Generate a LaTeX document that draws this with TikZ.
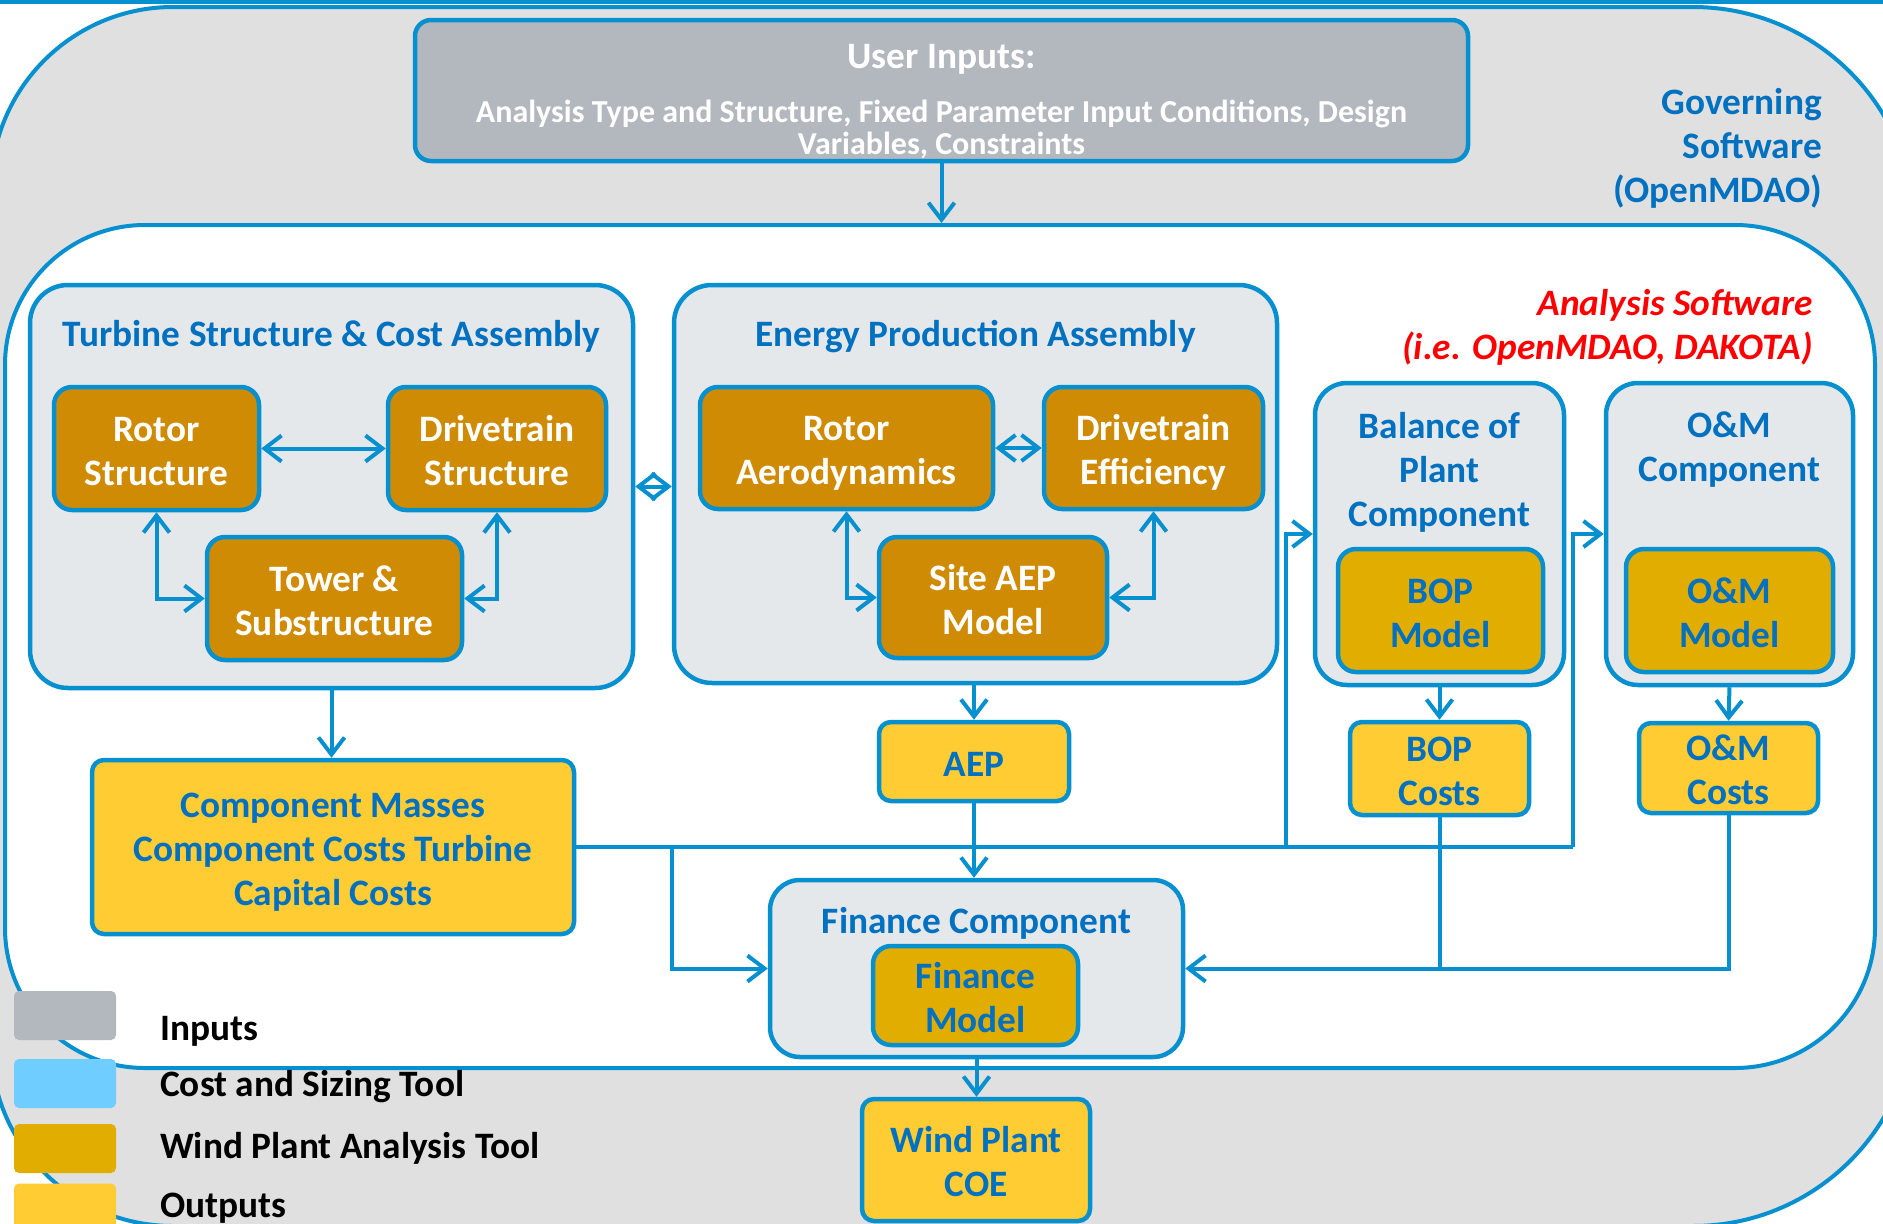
\documentclass[tikz,border=0pt]{standalone}
\usepackage{fontspec}
\setmainfont{Carlito}
\usetikzlibrary{arrows.meta}
\definecolor{lineblue}{HTML}{0690D0}
\definecolor{txtblue}{HTML}{0070C0}
\definecolor{orangebox}{HTML}{CF8B04}
\definecolor{goldbox}{HTML}{E1AD01}
\definecolor{yellowbox}{HTML}{FFCC33}
\definecolor{asmfill}{HTML}{E4E8EA}
\definecolor{outergray}{HTML}{E0E0E0}
\definecolor{inputgray}{HTML}{B3B7BE}
\definecolor{legblue}{HTML}{70CDFF}
\newcommand\FontBig{\fontsize{37.3}{44}\selectfont}
\newcommand\FontSub{\fontsize{32}{32}\selectfont}
\newcommand\TL[1]{\raisebox{-6pt}[\height][\depth]{\begin{tabular}{@{}c@{}}#1\end{tabular}}}
\begin{document}
\begin{tikzpicture}[x=1pt,y=-1pt,
  lbl/.style={font=\bfseries\FontBig, text=txtblue, inner sep=0pt, align=center},
  asm/.style={draw=lineblue, line width=4.5pt, fill=asmfill, rounded corners=38pt, inner sep=0pt},
  tool/.style={draw=lineblue, line width=4.5pt, fill=orangebox, rounded corners=18pt, text=white, font=\bfseries\FontBig, align=center, inner sep=1pt},
  model/.style={tool, fill=goldbox, text=txtblue},
  outbox/.style={tool, fill=yellowbox, text=txtblue, rounded corners=12pt},
  inbox/.style={draw=lineblue, line width=4.5pt, fill=inputgray, rounded corners=16pt, inner sep=0pt},
  conn/.style={draw=lineblue, line width=4pt},
  arr/.style={conn, -{Straight Barb[length=17pt,width=26pt]}},
  darr/.style={conn, {Straight Barb[length=17pt,width=26pt]}-{Straight Barb[length=17pt,width=26pt]}},
  legsq/.style={draw=none, rounded corners=5pt, minimum width=102pt, minimum height=49pt, inner sep=0pt},
  legtxt/.style={font=\bfseries\FontBig, text=black, anchor=base west, inner sep=0pt}
]
\useasboundingbox (0,0) rectangle (1883,1224);
\clip (0,0) rectangle (1883,1224);
\fill[white] (0,0) rectangle (1883,1224);
% outer governing software region
\path[draw=lineblue, fill=outergray, line width=4pt]
  (-9,189) arc[start angle=180, end angle=270, radius=182]
  -- (1693,7) arc[start angle=270, end angle=360, radius=222]
  -- (1915,1004) arc[start angle=0, end angle=90, radius=222]
  -- (173,1226) arc[start angle=90, end angle=180, radius=182]
  -- cycle;
\draw[lineblue, line width=4pt] (0,2) -- (1883,2);
% inner analysis software region
\node[draw=lineblue, line width=4pt, fill=white, rounded corners=140pt, minimum width=1870pt, minimum height=843pt, inner sep=0pt] (inner) at (940,646.5) {};

% user inputs
\node[inbox, minimum width=1053pt, minimum height=141pt] (ui) at (941.5,90.5) {};
\node[lbl, text=white] (uih) at (941.5,59.5) {User Inputs:};
\node[lbl, text=white, font=\bfseries\FontSub] (uit) at (941.5,129) {Analysis Type and Structure, Fixed Parameter Input Conditions, Design\\Variables, Constraints};

\node[lbl, align=right, anchor=east] (gov) at (1822,148.5) {Governing\\Software\\(OpenMDAO)};
\node[lbl, align=right, anchor=east, text=red, font=\bfseries\itshape\FontBig] (asw) at (1813,327.5) {Analysis Software\\(i.e. OpenMDAO, DAKOTA)};

% turbine structure & cost assembly
\node[asm, minimum width=603pt, minimum height=403pt] (tsa) at (331.5,486.5) {};
\node[lbl] (tsat) at (331.5,336) {Turbine Structure \& Cost Assembly};
\node[tool, minimum width=205pt, minimum height=123pt] (rs) at (156.5,448.5) {\TL{Rotor\\Structure}};
\node[tool, minimum width=218pt, minimum height=123pt] (ds) at (497,448.5) {\TL{Drivetrain\\Structure}};
\node[tool, minimum width=255pt, minimum height=123pt] (ts) at (334.5,598.5) {\TL{Tower \&\\Substructure}};

% energy production assembly
\node[asm, minimum width=603pt, minimum height=398pt] (epa) at (975.5,484) {};
\node[lbl] (epat) at (975.5,337) {Energy Production Assembly};
\node[tool, minimum width=293pt, minimum height=122pt] (ra) at (846.5,448) {\TL{Rotor\\Aerodynamics}};
\node[tool, minimum width=219pt, minimum height=122pt] (de) at (1153.5,448) {\TL{Drivetrain\\Efficiency}};
\node[tool, minimum width=228pt, minimum height=121pt] (sa) at (993,597.5) {\TL{Site AEP\\Model}};

% balance of plant
\node[asm, rounded corners=32pt, minimum width=249pt, minimum height=302pt] (bopc) at (1439.5,534) {};
\node[lbl] (bopct) at (1439.5,472.5) {Balance of\\Plant\\Component};
\node[model, minimum width=205pt, minimum height=123pt] (bopm) at (1440.5,610.5) {\TL{BOP\\Model}};

% O&M
\node[asm, rounded corners=32pt, minimum width=247pt, minimum height=302pt] (omc) at (1729.5,534) {};
\node[lbl] (omct) at (1729.5,450) {O\&M\\Component};
\node[model, minimum width=207pt, minimum height=123pt] (omm) at (1729.5,610.5) {\TL{O\&M\\Model}};

% outputs
\node[outbox, minimum width=482pt, minimum height=174pt] (cm) at (333,847) {\TL{Component Masses\\Component Costs Turbine\\Capital Costs}};
\node[outbox, minimum width=190pt, minimum height=79pt] (aep) at (974,761.5) {\TL{AEP}};
\node[outbox, minimum width=179pt, minimum height=93pt] (bopcost) at (1439.5,768.5) {\TL{BOP\\Costs}};
\node[outbox, minimum width=179pt, minimum height=90pt] (omcost) at (1728.5,768) {\TL{O\&M\\Costs}};

% finance
\node[asm, rounded corners=30pt, minimum width=413pt, minimum height=177pt] (fin) at (976.5,968.5) {};
\node[lbl] (fint) at (976.5,923.5) {Finance Component};
\node[model, minimum width=205pt, minimum height=99pt] (finm) at (975.5,995.5) {\TL{Finance\\Model}};

\node[outbox, minimum width=228pt, minimum height=122pt] (coe) at (976,1160) {\TL{Wind Plant\\COE}};

% connectors
\draw[arr] (ui.south) -- (ui.south |- inner.north);
\draw[darr] (rs.east) -- (ds.west);
\draw[darr] (rs.south) |- (ts.west);
\draw[darr] (ds.south) |- (ts.east);
\draw[darr] (ra.east) -- (de.west);
\draw[darr] (ra.south) |- (sa.west);
\draw[darr] (de.south) |- (sa.east);
\draw[darr] (tsa.east) -- (tsa.east -| epa.west);
\draw[arr] (tsa.south) -- (tsa.south |- cm.north);
\draw[arr] (aep.north |- epa.south) -- (aep.north);
\draw[arr] (bopc.south) -- (bopcost.north);
\draw[arr] (omc.south) -- (omcost.north);

\coordinate (busL) at (672,847);
\coordinate (busB) at (1286,847);
\coordinate (busO) at (1573,847);
\draw[conn] (cm.east) -- (busO);
\draw[arr] (busL) |- (fin.west);
\draw[arr] (busB) |- (bopc.west);
\draw[arr] (busO) |- (omc.west);
\draw[arr] (aep.south) -- (aep.south |- fin.north);
\draw[conn] (bopcost.south) -- (bopcost.south |- fin.east);
\draw[arr] (omcost.south) |- (fin.east);
\draw[arr] (fin.south) -- (fin.south |- coe.north);

% legend
\node[legsq, fill=inputgray] (lg1) at (65,1015.5) {};
\node[legsq, fill=legblue] (lg2) at (65,1083.5) {};
\node[legsq, fill=goldbox] (lg3) at (65,1148.5) {};
\node[legsq, fill=yellowbox] (lg4) at (65,1208) {};
\node[legtxt] (lt1) at (160,1040) {Inputs};
\node[legtxt] (lt2) at (160,1096) {Cost and Sizing Tool};
\node[legtxt] (lt3) at (160,1158) {Wind Plant Analysis Tool};
\node[legtxt] (lt4) at (160,1217) {Outputs};
\end{tikzpicture}
\end{document}
